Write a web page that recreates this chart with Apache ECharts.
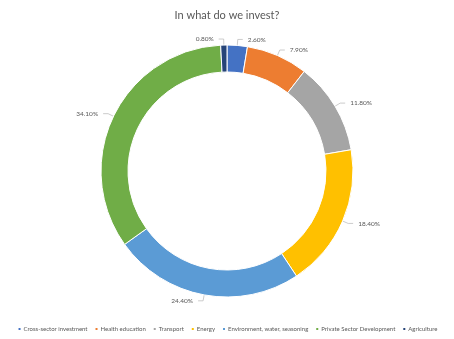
<!DOCTYPE html>
<html><head><meta charset="utf-8">
<script src="https://cdn.jsdelivr.net/npm/echarts@6/dist/echarts.min.js"></script>
<style>html,body{margin:0;padding:0;background:#fff}#c{width:454px;height:339px}</style>
</head><body><div id="c"></div>
<script>
const categories = ["Cross-sector investment","Health education","Transport","Energy","Environment, water, seasoning","Private Sector Development","Agriculture"];
const values = [2.60, 7.90, 11.80, 18.40, 24.40, 34.10, 0.80];
const colors = ["#4472C4","#ED7D31","#A5A5A5","#FFC000","#5B9BD5","#70AD47","#264478"];
const chart = echarts.init(document.getElementById('c'));
chart.setOption({
  animation:false,
  title:{text:"In what do we invest?",left:'center',top:5,textStyle:{fontFamily:'Lato',fontSize:11,fontWeight:'normal',color:'#595959'}},
  legend:{bottom:7,left:'center',width:454,padding:0,itemWidth:4,itemHeight:4,itemGap:6,icon:'rect',
    textStyle:{fontFamily:'Lato',fontSize:6,color:'#595959',padding:[0,0,0,-3]},data:categories},
  color:colors,
  series:[{type:'pie',center:[227,171],radius:[99,126],startAngle:90,clockwise:true,
    itemStyle:{borderColor:'#fff',borderWidth:1},
    label:{formatter:p=>p.value.toFixed(2)+'%',fontFamily:'Lato',fontSize:6.5,color:'#595959'},
    labelLine:{length:6,length2:5,lineStyle:{color:'#bfbfbf',width:0.8}},
    data:categories.map((c,i)=>({name:c,value:values[i]}))}]
});
</script></body></html>
